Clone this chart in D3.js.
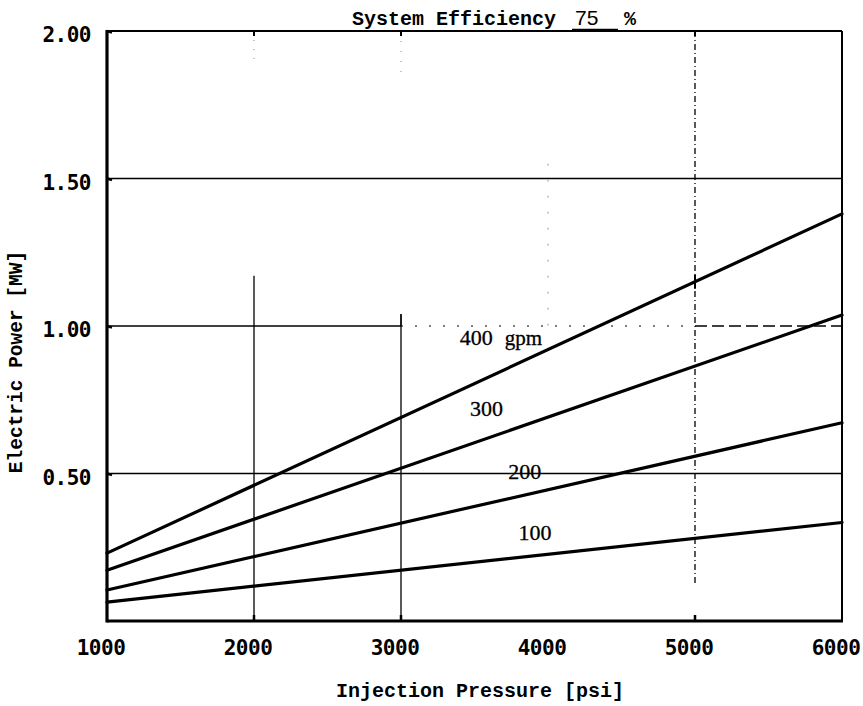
<!DOCTYPE html>
<html>
<head>
<meta charset="utf-8">
<script src="https://cdn.jsdelivr.net/npm/d3@7"></script>
<style>
  html, body { margin: 0; padding: 0; background: #fff; }
  svg { display: block; }
</style>
</head>
<body>
<svg id="chart" width="863" height="706"></svg>
<script>
// ---- data ----
const pressureDomain = [1000, 6000];
const powerDomain = [0, 2];
const xTicks = [1000, 2000, 3000, 4000, 5000, 6000];
const yTicks = [0.5, 1.0, 1.5, 2.0];
const seriesNames = ["400 gpm", "300", "200", "100"];
const seriesPressure = [1000, 6000];
const flow400 = [0.23, 1.38];
const flow300 = [0.172, 1.037];
const flow200 = [0.105, 0.672];
const flow100 = [0.064, 0.334];
const seriesValues = [flow400, flow300, flow200, flow100];
// label anchor points in data space
const labelPressure = [3400, 3470, 3730, 3800];
const labelPower = [0.935, 0.695, 0.48, 0.275];
const efficiency = "75";

// ---- layout ----
const svg = d3.select("#chart");
const L = 107, R = 842, T = 31, B = 621;
const x = d3.scaleLinear().domain(pressureDomain).range([L, R]);
const y = d3.scaleLinear().domain(powerDomain).range([B, T]);

const monoB = "'Liberation Mono', 'DejaVu Sans Mono', monospace";
const tickFont = "'DejaVu Sans Mono', monospace";
const serif = "'Liberation Serif', 'DejaVu Serif', serif";

// ---- grid ----
const g = svg.append("g").attr("stroke", "#000").attr("fill", "none");
g.append("line").attr("x1", x(1000)).attr("x2", x(6000)).attr("y1", y(1.5)).attr("y2", y(1.5)).attr("stroke-width", 1.3);
g.append("line").attr("x1", x(1000)).attr("x2", x(6000)).attr("y1", y(0.5)).attr("y2", y(0.5)).attr("stroke-width", 1.3);
g.append("line").attr("x1", x(1000)).attr("x2", x(3000)).attr("y1", y(1.0)).attr("y2", y(1.0)).attr("stroke-width", 1.3);
g.append("line").attr("x1", x(3000)).attr("x2", x(5000)).attr("y1", y(1.0)).attr("y2", y(1.0)).attr("stroke-width", 1.2).attr("stroke-dasharray", "2,12");
g.append("line").attr("x1", x(5000)).attr("x2", x(6000)).attr("y1", y(1.0)).attr("y2", y(1.0)).attr("stroke-width", 1.3).attr("stroke-dasharray", "12,5");
g.append("line").attr("x1", x(2000)).attr("x2", x(2000)).attr("y1", y(1.17)).attr("y2", y(0)).attr("stroke-width", 1.3);
g.append("line").attr("x1", x(2000)).attr("x2", x(2000)).attr("y1", y(2.0)).attr("y2", y(1.9)).attr("stroke-width", 1).attr("stroke-dasharray", "1,8").attr("stroke", "#888");
g.append("line").attr("x1", x(3000)).attr("x2", x(3000)).attr("y1", y(1.04)).attr("y2", y(0)).attr("stroke-width", 1.3);
g.append("line").attr("x1", x(3000)).attr("x2", x(3000)).attr("y1", y(2.0)).attr("y2", y(1.86)).attr("stroke-width", 1).attr("stroke-dasharray", "1,9").attr("stroke", "#888");
g.append("line").attr("x1", x(4000)).attr("x2", x(4000)).attr("y1", y(1.55)).attr("y2", y(1.0)).attr("stroke-width", 1).attr("stroke-dasharray", "2,14").attr("stroke", "#999");
g.append("line").attr("x1", x(5000)).attr("x2", x(5000)).attr("y1", y(2.0)).attr("y2", y(0.12)).attr("stroke-width", 1.3).attr("stroke-dasharray", "6,3,1,3");

// ---- frame ----
g.append("line").attr("x1", L).attr("x2", R).attr("y1", T).attr("y2", T).attr("stroke-width", 2);
g.append("line").attr("x1", R).attr("x2", R).attr("y1", T).attr("y2", B).attr("stroke-width", 2);
g.append("line").attr("x1", L).attr("x2", L).attr("y1", T - 1).attr("y2", B + 1.5).attr("stroke-width", 3.2);
g.append("line").attr("x1", L).attr("x2", R + 1).attr("y1", B).attr("y2", B).attr("stroke-width", 3);

yTicks.forEach(v => {
  g.append("line").attr("x1", L).attr("x2", L + 5).attr("y1", y(v)).attr("y2", y(v) + 1.5).attr("stroke-width", 2.5);
});
[2000, 3000, 5000].forEach(v => {
  g.append("line").attr("x1", x(v)).attr("x2", x(v)).attr("y1", B).attr("y2", B - 6).attr("stroke-width", 2.5);
  g.append("line").attr("x1", x(v)).attr("x2", x(v)).attr("y1", T).attr("y2", T + 5).attr("stroke-width", 2);
});

// ---- series ----
const line = d3.line().x(d => x(d[0])).y(d => y(d[1]));
seriesValues.forEach(vals => {
  const pts = seriesPressure.map((p, i) => [p, vals[i]]);
  svg.append("path").attr("d", line(pts)).attr("fill", "none").attr("stroke", "#000")
    .attr("stroke-width", 3.2).attr("stroke-linecap", "round");
});
const v5000 = flow400[0] + (flow400[1] - flow400[0]) * (5000 - 1000) / 5000;
svg.append("line").attr("x1", x(5000)).attr("x2", x(5000)).attr("y1", y(v5000) - 7).attr("y2", y(v5000) + 7)
  .attr("stroke", "#000").attr("stroke-width", 2);
svg.append("line").attr("x1", x(3000)).attr("x2", x(3000)).attr("y1", y(1.0) - 12).attr("y2", y(1.0)).attr("stroke", "#000").attr("stroke-width", 1.3);

// ---- series labels ----
seriesNames.forEach((name, i) => {
  const t = svg.append("text").attr("x", x(labelPressure[i])).attr("y", y(labelPower[i]))
    .attr("font-family", serif).attr("font-size", 22).attr("fill", "#000")
    .attr("stroke", "#000").attr("stroke-width", 0.3);
  if (name.indexOf("gpm") >= 0) {
    const parts = name.split(" ");
    t.append("tspan").text(parts[0]);
    t.append("tspan").attr("dx", 12).attr("font-size", 21).text(parts[1]);
  } else {
    t.text(name);
  }
});

// ---- tick labels ----
svg.selectAll(".xt").data(xTicks).enter().append("text")
  .attr("x", d => x(d) - 6).attr("y", 655)
  .attr("text-anchor", "middle").attr("font-family", tickFont).attr("font-weight", "bold")
  .attr("font-size", 21).attr("letter-spacing", -0.5).text(d => d);
svg.selectAll(".yt").data(yTicks).enter().append("text")
  .attr("x", 91).attr("y", d => y(d) + 11)
  .attr("text-anchor", "end").attr("font-family", tickFont).attr("font-weight", "bold")
  .attr("font-size", 21).attr("letter-spacing", -0.5).text(d => d3.format(".2f")(d));

// ---- axis titles ----
svg.append("text").attr("x", 480).attr("y", 697).attr("text-anchor", "middle")
  .attr("font-family", monoB).attr("font-weight", "bold").attr("font-size", 20)
  .text("Injection Pressure [psi]");
svg.append("text").attr("transform", "translate(22,362) rotate(-90)").attr("text-anchor", "middle")
  .attr("font-family", monoB).attr("font-weight", "bold").attr("font-size", 19.5)
  .text("Electric Power [MW]");

// ---- title ----
svg.append("text").attr("x", 352).attr("y", 25)
  .attr("font-family", monoB).attr("font-weight", "bold").attr("font-size", 20)
  .text("System Efficiency");
svg.append("text").attr("x", 575).attr("y", 25)
  .attr("font-family", "'Liberation Sans', sans-serif").attr("font-size", 21)
  .text(efficiency);
svg.append("line").attr("x1", 572).attr("x2", 618).attr("y1", 29.5).attr("y2", 29.5).attr("stroke", "#000").attr("stroke-width", 1.5);
svg.append("text").attr("x", 624).attr("y", 25)
  .attr("font-family", monoB).attr("font-weight", "bold").attr("font-size", 20)
  .text("%");
</script>
</body>
</html>
